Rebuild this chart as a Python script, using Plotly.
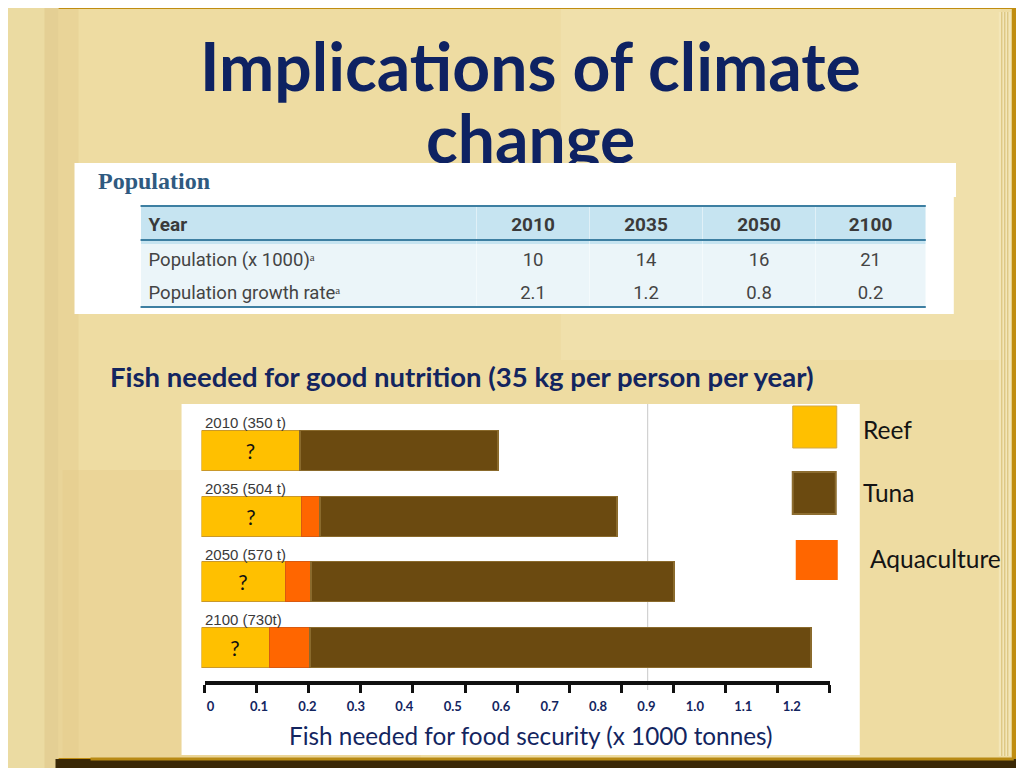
import plotly.graph_objects as go

# ---------------- data ----------------
table_header = ["Year", "2010", "2035", "2050", "2100"]
row_labels = ["Population (x 1000)ᵃ", "Population growth rateᵃ"]
population = ["10", "14", "16", "21"]
growth_rate = ["2.1", "1.2", "0.8", "0.2"]

bar_years = ["2010", "2035", "2050", "2100"]
bar_labels = ["2010 (350 t)", "2035 (504 t)", "2050 (570 t)", "2100 (730t)"]
reef = [119, 120, 101, 81]          # tonnes
aquaculture = [0, 22, 31, 49]      # tonnes
tuna = [237, 356, 434, 600]        # tonnes
tick_values = [0, 0.1, 0.2, 0.3, 0.4, 0.5, 0.6, 0.7, 0.8, 0.9, 1.0, 1.1, 1.2]
tick_labels = ["0", "0.1", "0.2", "0.3", "0.4", "0.5", "0.6", "0.7", "0.8", "0.9", "1.0", "1.1", "1.2"]
tick_marks = list(range(13))
legend_names = ["Reef", "Tuna", "Aquaculture"]

# ---------------- helpers ----------------
W, H = 1024, 768
SX, OX, OY = 0.987, 11.5, 8   # screen = OX + SX * figure_x ; screen = OY + figure_y
def fx(x):
    return (x - OX) / SX
def px(x):
    return fx(x) / W
def py(y):
    return 1 - (y - OY) / H

NAVY = "#13255f"
REEF_C = "#ffc000"
TUNA_C = "#6b4a10"
AQUA_C = "#ff6600"

fig = go.Figure()

# table
fig.add_trace(go.Table(
    domain=dict(x=[px(140), px(925)], y=[py(308), py(205)]),
    columnwidth=[336, 113, 113, 113, 110],
    header=dict(
        values=["<b>%s</b>" % h for h in table_header],
        fill_color="#c6e4f1",
        line=dict(color="#c6e4f1", width=0),
        align=["left", "center", "center", "center", "center"],
        font=dict(family="Roboto", size=19, color="#3a3a3a"),
        height=35,
    ),
    cells=dict(
        values=[row_labels, [population[0], growth_rate[0]], [population[1], growth_rate[1]],
                [population[2], growth_rate[2]], [population[3], growth_rate[3]]],
        fill_color="#ebf5f9",
        line=dict(color="#ebf5f9", width=0),
        align=["left", "center", "center", "center", "center"],
        font=dict(family="Roboto", size=18.5, color="#444444"),
        height=33,
    ),
))

# bar x axis: 0 t at screen x 201, 0.835 screen px per tonne
x0_fig, x1_fig = fx(201), fx(859)
ppt = 0.835 / SX
fig.add_trace(go.Bar(
    y=bar_years, x=reef, orientation="h", name="Reef",
    marker=dict(color=REEF_C, line=dict(color="#c9982a", width=1)),
    text=["?"] * len(reef), textposition="inside", insidetextanchor="middle",
    textfont=dict(family="Lato", size=21, color="#111111"), textangle=0,
    constraintext="none", width=0.61, xaxis="x", yaxis="y",
))
fig.add_trace(go.Bar(
    y=bar_years, x=aquaculture, orientation="h", name="Aquaculture",
    marker=dict(color=AQUA_C, line=dict(color="#d95a10", width=1)),
    width=0.61, xaxis="x", yaxis="y",
))
fig.add_trace(go.Bar(
    y=bar_years, x=tuna, orientation="h", name="Tuna",
    marker=dict(color=TUNA_C, line=dict(color="#8a6a2c", width=1.5)),
    width=0.61, xaxis="x", yaxis="y",
))
# dummy traces for the decorative axes
fig.add_trace(go.Scatter(x=[None], y=[None], xaxis="x2", yaxis="y", showlegend=False, hoverinfo="skip"))
fig.add_trace(go.Scatter(x=[None], y=[None], xaxis="x3", yaxis="y", showlegend=False, hoverinfo="skip"))

shapes = []
def rect(x0, y0, x1, y1, fill, line=None, lw=0, layer="below", opacity=1):
    shapes.append(dict(type="rect", xref="paper", yref="paper",
                       x0=px(x0), x1=px(x1), y0=py(y1), y1=py(y0),
                       fillcolor=fill, line=dict(color=line or fill, width=lw),
                       layer=layer, opacity=opacity))
def vline(x, y0, y1, color, w, layer="below"):
    shapes.append(dict(type="line", xref="paper", yref="paper",
                       x0=px(x), x1=px(x), y0=py(y1), y1=py(y0),
                       line=dict(color=color, width=w), layer=layer))
def hline(x0, x1, y, color, w, layer="below"):
    shapes.append(dict(type="line", xref="paper", yref="paper",
                       x0=px(x0), x1=px(x1), y0=py(y), y1=py(y),
                       line=dict(color=color, width=w), layer=layer))

# book frame
rect(0, 0, 1030, 780, "#2a1c05")
rect(0, 2, 1019, 765, "#c08d10")
rect(0, 9, 1011, 758, "#eedca2")
rect(560, 9, 1000, 360, "#f2e4b2", opacity=0.55)
rect(62, 470, 420, 758, "#e6c886", opacity=0.35)
# right page stack
rect(998, 12, 1010, 756, "#f3e6b8")
vline(1001, 12, 756, "#d4bb70", 1)
vline(1004, 12, 756, "#d4bb70", 1)
vline(1007, 12, 756, "#d4bb70", 1)
# left page curl
rect(0, 2, 58, 780, "#ebdba2")
rect(44, 2, 58, 780, "#dcc282", opacity=0.45)
rect(58, 9, 78, 758, "#e2ca8c", opacity=0.45)
hline(100, 1030, 1.5, "#1e1404", 3)
rect(55, 759, 1030, 780, "#3a2806")
hline(90, 1013, 759, "#b88a14", 3)

# table image box
rect(74, 163, 953, 314, "#ffffff")
# chart image box
rect(181, 404, 859, 755, "#ffffff")
vline(647, 404, 690, "#c8c8c8", 1)

# table rules (drawn above the table)
hline(140, 925, 206, "#3d7fa2", 2, layer="above")
hline(140, 925, 240, "#3d7fa2", 2, layer="above")
hline(140, 925, 307, "#3d7fa2", 2, layer="above")

# legend swatches
rect(792, 406, 836, 448, REEF_C, line="#d1a84a", lw=1)
rect(792, 472, 835, 514, TUNA_C, line="#8d6d30", lw=2)
rect(795, 540, 837, 580, AQUA_C, line=AQUA_C, lw=0)

annotations = []
def txt(x, y, s, size, color, family="Lato", weight="normal", xanchor="left", **kw):
    annotations.append(dict(x=px(x), y=py(y), xref="paper", yref="paper", text=s,
                            showarrow=False, xanchor=xanchor, yanchor="middle",
                            font=dict(family=family, size=size, color=color, weight=weight), **kw))

# title
txt(530, 65, "Implications of climate", 66, "#0e2262", weight="bold", xanchor="center")
txt(530, 137, "change", 66, "#0e2262", weight="bold", xanchor="center")
# white strip covering the descender (drawn after the title)
annotations.append(dict(x=px(74), y=py(163), xref="paper", yref="paper", text=" ",
                        showarrow=False, xanchor="left", yanchor="top",
                        width=(953 - 74) / SX - 10, height=34, bgcolor="#ffffff",
                        borderpad=0, borderwidth=0))
txt(95, 181, "<b>Population</b>", 24, "#2f5a80", family="Liberation Serif")

# subtitle
txt(107, 376, "Fish needed for good nutrition (35 kg per person per year)", 27.5, NAVY, weight="bold")

# bar labels
for i, lab in enumerate(bar_labels):
    annotations.append(dict(x=0, y=i, xref="x", yref="y", text=lab, showarrow=False,
                            xanchor="left", yanchor="middle", xshift=1, yshift=28,
                            font=dict(family="Liberation Sans", size=15, color="#3a3a3a")))

# legend labels
txt(860, 429, legend_names[0], 24.5, "#141414")
txt(860, 492, legend_names[1], 24.5, "#141414")
txt(867, 558, legend_names[2], 24.5, "#141414")

# axis title
txt(530, 735, "Fish needed for food security (x 1000 tonnes)", 24.3, NAVY, xanchor="center")

fig.update_layout(
    width=W, height=H, margin=dict(l=0, r=0, t=0, b=0),
    paper_bgcolor="#2a1c05", plot_bgcolor="rgba(0,0,0,0)",
    showlegend=False, barmode="stack", bargap=0,
    shapes=shapes, annotations=annotations,
    xaxis=dict(domain=[x0_fig / W, x1_fig / W], range=[0, (x1_fig - x0_fig) / ppt],
               visible=False, fixedrange=True),
    yaxis=dict(domain=[py(690), py(404)], type="category", categoryorder="array",
               categoryarray=bar_years, range=[3.64, -0.715], visible=False, fixedrange=True),
    xaxis2=dict(domain=[px(204), px(829)], range=[0, 12], tickvals=tick_marks,
                ticks="outside", ticklen=8, tickwidth=3, tickcolor="#111111",
                showline=True, linewidth=4, linecolor="#111111", showticklabels=False,
                showgrid=False, zeroline=False, anchor="free", position=py(683), fixedrange=True),
    xaxis3=dict(domain=[px(210), px(791)], range=[0, 1.2], tickvals=tick_values, ticktext=tick_labels,
                ticks="", showline=False, showgrid=False, zeroline=False,
                tickfont=dict(family="Lato", size=13, color=NAVY, weight="bold"),
                anchor="free", position=py(697), fixedrange=True),
)

fig.write_html("out.html")
